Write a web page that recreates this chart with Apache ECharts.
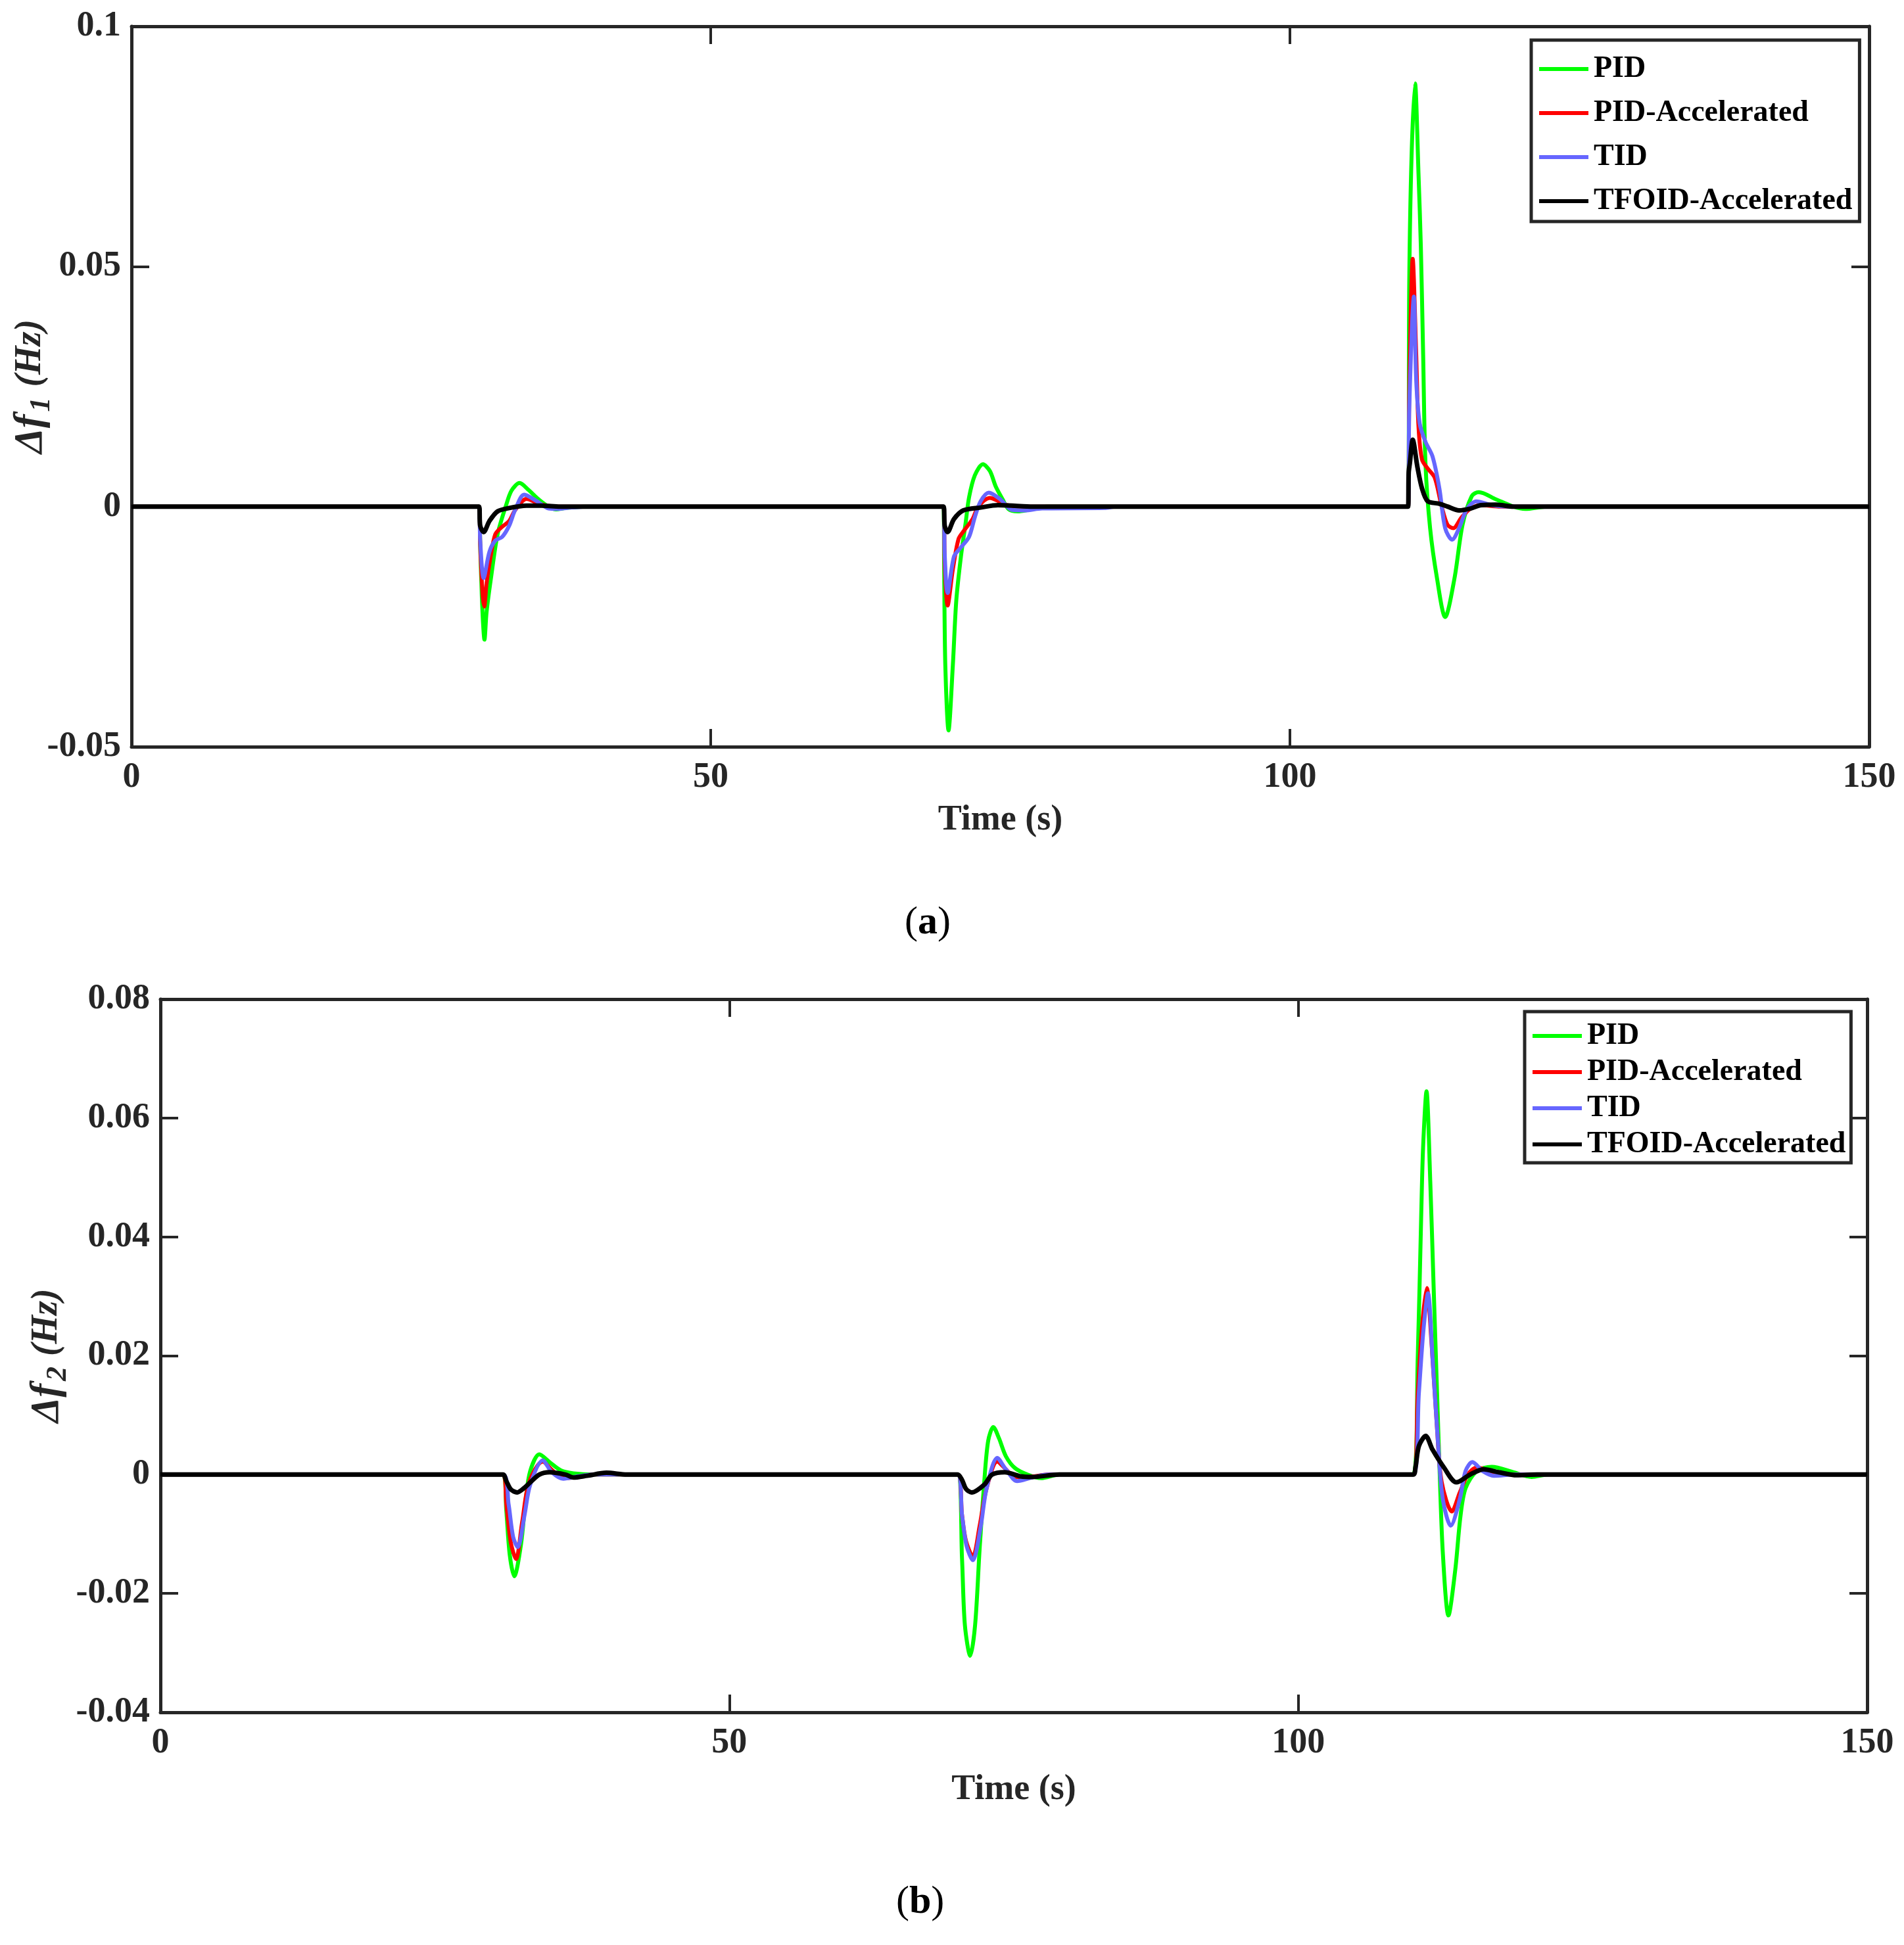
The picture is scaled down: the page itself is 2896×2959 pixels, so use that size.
<!DOCTYPE html>
<html>
<head>
<meta charset="utf-8">
<script src="https://cdn.jsdelivr.net/npm/echarts@6/dist/echarts.min.js"></script>
<style>
  html, body { margin: 0; padding: 0; background: #fff; }
  #main { width: 2896px; height: 2959px; }
</style>
</head>
<body>
<div id="main"></div>
<script>
// controller names / colours (legend order)
var names = ['PID', 'PID-Accelerated', 'TID', 'TFOID-Accelerated'];
var colors = ['#00ff00', '#ff0000', '#6666ff', '#000000'];

// tick labels
var timeTicks = [0, 50, 100, 150];
var f1Ticks = [-0.05, 0, 0.05, 0.1];
var f2Ticks = [-0.04, -0.02, 0, 0.02, 0.04, 0.06, 0.08];

// (a) delta f1, [time, Hz]
var f1PID = [[0, 0], [30, 0], [30.1, -0.008], [30.3, -0.022], [30.47, -0.0277], [30.65, -0.022], [31.03, -0.0149],
  [31.6, -0.0058], [32.3, 0], [32.8, 0.0033], [33.5, 0.0049], [34.3, 0.0034], [35.0, 0.0018], [35.8, 0.0003],
  [36.6, -0.0006], [37.5, -0.0003], [39, 0],
  [70.1, 0], [70.15, -0.012], [70.25, -0.033], [70.53, -0.0466], [70.9, -0.0331], [71.2, -0.0195], [71.6, -0.0104],
  [72.0, -0.0035], [72.3, 0.0019], [72.8, 0.0065], [73.5, 0.0088], [74.1, 0.0074], [74.6, 0.0042], [75.2, 0.0015],
  [75.7, -0.0005], [76.5, -0.001], [77.6, -0.0006], [79, 0],
  [110.2, 0], [110.3, 0.0467], [110.5, 0.073], [110.8, 0.0881], [111.1, 0.0692], [111.3, 0.0542], [111.5, 0.0316],
  [111.7, 0.009], [112.1, -0.0045], [112.7, -0.015], [113.4, -0.023], [114.2, -0.015], [114.9, -0.0038],
  [115.7, 0.0022], [116.3, 0.003], [117.8, 0.0015], [119.3, 0], [120.3, -0.0005], [122.2, 0], [150, 0]];
var f1PIDAcc = [[0, 0], [30, 0], [30.1, -0.008], [30.3, -0.018], [30.45, -0.0208], [30.65, -0.016], [31.0, -0.0104],
  [31.4, -0.0058], [31.9, -0.0044], [32.6, -0.003], [33.1, -0.0008], [34.1, 0.0016], [35.0, 0.0008], [35.8, 0.0002], [37, 0],
  [70.1, 0], [70.2, -0.012], [70.45, -0.0206], [70.9, -0.0131], [71.4, -0.0067], [71.9, -0.0049], [72.6, -0.0026],
  [73.1, 0], [74.1, 0.0018], [74.8, 0.0012], [75.6, 0.0003], [77, 0],
  [110.2, 0], [110.3, 0.024], [110.6, 0.0516], [110.9, 0.0316], [111.1, 0.0166], [111.4, 0.0098], [111.9, 0.0079],
  [112.5, 0.006], [113.1, 0], [113.6, -0.0038], [114.1, -0.0045], [114.8, -0.0023], [115.6, -0.0004], [116.5, 0.0003],
  [118, 0], [150, 0]];
var f1TID = [[0, 0], [30, 0], [30.1, -0.007], [30.4, -0.0149], [30.9, -0.0094], [31.4, -0.0071], [32.0, -0.0063],
  [32.6, -0.004], [33.1, -0.0008], [33.9, 0.0025], [35.0, 0.0011], [36.0, -0.0004], [36.7, -0.0005], [38, -0.0002], [39.5, 0],
  [70.1, 0], [70.2, -0.01], [70.45, -0.018], [71.0, -0.0104], [71.6, -0.0085], [72.3, -0.0063], [72.8, -0.0022],
  [73.3, 0.0011], [74.0, 0.0029], [75.0, 0.0015], [76.0, -0.0007], [77.1, -0.0008], [78.6, -0.0004], [84, -0.0003], [85, 0],
  [110.2, 0], [110.3, 0.0203], [110.7, 0.0437], [110.9, 0.0263], [111.2, 0.0173], [111.7, 0.0135], [112.3, 0.0105],
  [112.9, 0.0038], [113.4, -0.0045], [114.0, -0.0069], [114.6, -0.0045], [115.3, -0.0004], [116.1, 0.0011],
  [117.4, 0.0003], [119, 0], [150, 0]];
var f1TFOID = [[0, 0], [30, 0], [30.1, -0.004], [30.4, -0.0053], [30.9, -0.003], [31.6, -0.001], [32.6, -0.0003],
  [34.1, 0.0002], [35.4, 0.0002], [37, 0],
  [70.1, 0], [70.2, -0.004], [70.45, -0.0053], [71.0, -0.0026], [71.8, -0.0008], [73.3, -0.0002], [74.8, 0.0003],
  [76.7, 0.0001], [78, 0],
  [110.2, 0], [110.25, 0.007], [110.35, 0.009], [110.6, 0.0139], [111.0, 0.0083], [111.4, 0.0038], [111.9, 0.0011],
  [112.9, 0.0006], [113.6, 0], [114.6, -0.0008], [115.6, -0.0004], [116.5, 0.0003], [117.8, 0.0004], [119.3, 0], [150, 0]];

// (b) delta f2, [time, Hz]
var f2PID = [[0, 0], [30.1, 0], [30.4, -0.0061], [30.7, -0.0135], [31.1, -0.0171], [31.7, -0.0116], [32.1, -0.0042],
  [32.5, 0.0006], [33.3, 0.0034], [34.2, 0.0021], [35.2, 0.0007], [36.3, 0.0002], [38, 0],
  [70.05, 0], [70.45, -0.0142], [70.7, -0.0253], [71.17, -0.0305], [71.6, -0.0253], [72.0, -0.0124], [72.4, -0.0013],
  [72.75, 0.0057], [73.2, 0.008], [73.7, 0.0061], [74.3, 0.0031], [75.1, 0.0011], [76.2, 0], [77.4, -0.0006], [79, 0],
  [110.1, 0], [110.5, 0.0196], [110.8, 0.0432], [110.97, 0.055], [111.27, 0.0645], [111.6, 0.0494], [111.9, 0.0314],
  [112.2, 0.0137], [112.4, 0.0019], [112.7, -0.013], [113.2, -0.0237], [113.8, -0.016], [114.25, -0.0071],
  [114.7, -0.0023], [115.7, 0.0006], [117.0, 0.0013], [118.9, 0.0004], [120.5, -0.0004], [122, 0], [150, 0]];
var f2PIDAcc = [[0, 0], [30.1, 0], [30.4, -0.005], [30.8, -0.0115], [31.25, -0.0142], [31.8, -0.0079], [32.4, -0.0013],
  [33.6, 0.0022], [34.4, 0.0008], [35.4, -0.0006], [36.3, -0.0005], [38, 0],
  [70.05, 0], [70.45, -0.0068], [70.8, -0.0112], [71.4, -0.0138], [72.0, -0.0086], [72.6, -0.0024], [73.55, 0.0022],
  [74.3, 0.0009], [75.1, -0.0004], [76.2, -0.0004], [78, 0],
  [110.1, 0], [110.5, 0.0137], [110.9, 0.0254], [111.3, 0.0314], [111.7, 0.0225], [112.2, 0.0077], [112.6, -0.0012],
  [113.5, -0.0062], [114.2, -0.003], [114.9, 0], [115.7, 0.0012], [117.0, 0.0005], [118.5, 0], [150, 0]];
var f2TID = [[0, 0], [30.1, 0], [30.6, -0.005], [31.0, -0.0105], [31.4, -0.0122], [32.0, -0.0068], [32.5, -0.0017],
  [33.6, 0.0024], [34.4, 0.0004], [35.4, -0.0007], [36.7, -0.0003], [38, 0],
  [70.05, 0], [70.45, -0.0068], [70.85, -0.012], [71.4, -0.0144], [72.07, -0.009], [72.6, -0.0024], [73.55, 0.0028],
  [74.3, 0.0009], [75.3, -0.0011], [76.6, -0.0005], [78, 0],
  [110.1, 0], [110.6, 0.0137], [111.0, 0.0243], [111.4, 0.0305], [111.8, 0.0196], [112.3, 0.0048], [112.7, -0.0041],
  [113.4, -0.0086], [114.2, -0.0041], [114.7, 0.0006], [115.3, 0.0021], [116.2, 0.0006], [117.2, -0.0002], [119, 0], [150, 0]];
var f2TFOID = [[0, 0], [30.1, 0], [30.4, -0.0011], [30.8, -0.0025], [31.35, -0.003], [32.0, -0.0022], [32.5, -0.0013],
  [33.3, 0], [34.2, 0.0004], [35.6, 0], [36.3, -0.0005], [37.5, -0.0002], [39.2, 0.0003], [41, 0],
  [70.05, 0], [70.45, -0.0009], [70.8, -0.0024], [71.3, -0.003], [72.4, -0.0017], [73.1, 0], [74.2, 0.0004],
  [75.6, -0.0003], [76.6, -0.0004], [79, 0],
  [110.1, 0], [110.3, 0.0012], [110.6, 0.0048], [111.2, 0.0065], [111.8, 0.0042], [112.8, 0.0012], [113.9, -0.0013],
  [115.1, 0], [116.3, 0.0009], [117.6, 0.0004], [119.2, -0.0001], [121, 0], [150, 0]];

var f1Data = [f1PID, f1PIDAcc, f1TID, f1TFOID];
var f2Data = [f2PID, f2PIDAcc, f2TID, f2TFOID];

var axisColor = '#262626';
var fontName = "'Liberation Serif', 'Times New Roman', serif";

function step(ticks) { return +(ticks[1] - ticks[0]).toFixed(4); }

// one MATLAB-like box: visible axis with labels plus a mirrored one with ticks only
function makeAxis(kind, grid, ticks, position, labelled, extra) {
  var ax = {
    type: 'value',
    gridIndex: grid,
    position: position,
    min: ticks[0],
    max: ticks[ticks.length - 1],
    interval: step(ticks),
    nameMoveOverlap: false,
    splitLine: { show: false },
    axisLine: { show: true, onZero: false, lineStyle: { color: axisColor, width: 5 } },
    axisTick: { show: true, inside: true, length: 27, lineStyle: { color: axisColor, width: 4 } },
    axisLabel: {
      show: labelled,
      color: axisColor,
      fontFamily: fontName,
      fontWeight: 'bold',
      fontSize: 54,
      margin: kind === 'x' ? 20 : 16,
      formatter: function (v) { return String(+v.toFixed(4)); }
    }
  };
  for (var k in extra) ax[k] = extra[k];
  return ax;
}

function yName(sub) {
  return {
    name: '{d|Δf}{s|' + sub + '}{h| (Hz)}',
    nameLocation: 'middle',
    nameRotate: 90,
    nameTextStyle: {
      rich: {
        d: { fontFamily: fontName, fontWeight: 'bold', fontStyle: 'italic', fontSize: 62, color: axisColor, lineHeight: 64 },
        s: { fontFamily: fontName, fontWeight: 'bold', fontStyle: 'italic', fontSize: 44, color: axisColor, lineHeight: 44, padding: [34, 2, 0, 4] },
        h: { fontFamily: fontName, fontWeight: 'bold', fontStyle: 'italic', fontSize: 56, color: axisColor, lineHeight: 64 }
      }
    }
  };
}

var timeName = {
  name: 'Time (s)',
  nameLocation: 'middle',
  nameTextStyle: { fontFamily: fontName, fontWeight: 'bold', fontSize: 54, color: axisColor }
};

function merge(a, b) { var o = {}; for (var k in a) o[k] = a[k]; for (var j in b) o[j] = b[j]; return o; }

var series = [];
[f1Data, f2Data].forEach(function (set, g) {
  set.forEach(function (d, i) {
    series.push({
      name: names[i],
      type: 'line',
      xAxisIndex: g * 2,
      yAxisIndex: g * 2,
      data: d,
      showSymbol: false,
      symbol: 'none',
      smooth: 0.3,
      animation: false,
      z: 3 + i,
      lineStyle: { color: colors[i], width: i === 3 ? 7 : 6 },
      itemStyle: { color: colors[i] }
    });
  });
});

function makeLegend(left, top, gap, pad) {
  return {
    data: names,
    orient: 'vertical',
    left: left,
    top: top,
    itemWidth: 75,
    itemHeight: 46,
    itemGap: gap,
    padding: pad,
    borderColor: axisColor,
    borderWidth: 5,
    backgroundColor: '#fff',
    selectedMode: false,
    itemStyle: { opacity: 0 },
    lineStyle: { width: 6 },
    textStyle: { fontFamily: fontName, fontWeight: 'bold', fontSize: 46, color: '#000', lineHeight: 46, padding: [0, 0, 0, 3] }
  };
}

var myChart = echarts.init(document.getElementById('main'));

var option = {
  backgroundColor: '#fff',
  animation: false,
  grid: [
    { left: 200, top: 40, width: 2643, height: 1096, containLabel: false, outerBoundsMode: 'none' },
    { left: 244, top: 1520, width: 2596, height: 1085, containLabel: false, outerBoundsMode: 'none' }
  ],
  xAxis: [
    makeAxis('x', 0, timeTicks, 'bottom', true, merge(timeName, { nameGap: 85 })),
    makeAxis('x', 0, timeTicks, 'top', false, {}),
    makeAxis('x', 1, timeTicks, 'bottom', true, merge(timeName, { nameGap: 91 })),
    makeAxis('x', 1, timeTicks, 'top', false, {})
  ],
  yAxis: [
    makeAxis('y', 0, f1Ticks, 'left', true, merge(yName('1'), { nameGap: 121 })),
    makeAxis('y', 0, f1Ticks, 'right', false, {}),
    makeAxis('y', 1, f2Ticks, 'left', true, merge(yName('2'), { nameGap: 140 })),
    makeAxis('y', 1, f2Ticks, 'right', false, {})
  ],
  legend: [
    makeLegend(2329, 61, 21, [21, 11, 8, 9]),
    makeLegend(2319, 1539, 9, [14, 8, 5, 9])
  ],
  graphic: [
    {
      type: 'text', left: 1376, top: 1374,
      style: { text: '{p|(}{b|a}{p|)}', rich: {
        p: { fontFamily: fontName, fontSize: 60, fill: '#000' },
        b: { fontFamily: fontName, fontSize: 60, fontWeight: 'bold', fill: '#000' } } }
    },
    {
      type: 'text', left: 1363, top: 2864,
      style: { text: '{p|(}{b|b}{p|)}', rich: {
        p: { fontFamily: fontName, fontSize: 60, fill: '#000' },
        b: { fontFamily: fontName, fontSize: 60, fontWeight: 'bold', fill: '#000' } } }
    }
  ],
  series: series
};

myChart.setOption(option);
</script>
</body>
</html>
